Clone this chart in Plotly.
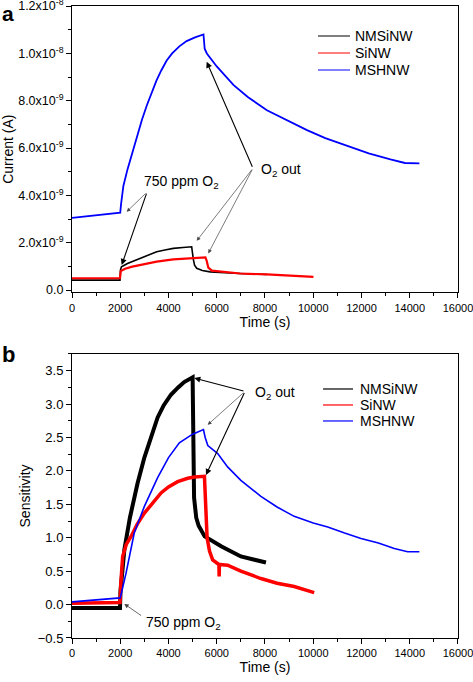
import plotly.graph_objects as go

# ---------------- panel a : current (A) vs time (s) ----------------
time_a_nmsinw = [0, 1000, 1990, 2010, 2050, 2300, 2600, 2820, 3200, 3510, 3900, 4200, 4600, 4960, 5030, 5080, 5170, 5400, 5725, 6300, 6960, 7500, 8080]
current_a_nmsinw = [0.42e-9, 0.42e-9, 0.42e-9, 0.85e-9, 0.98e-9, 1.12e-9, 1.25e-9, 1.34e-9, 1.5e-9, 1.62e-9, 1.7e-9, 1.76e-9, 1.8e-9, 1.83e-9, 1.3e-9, 1.05e-9, 0.92e-9, 0.83e-9, 0.77e-9, 0.73e-9, 0.7e-9, 0.68e-9, 0.66e-9]

time_a_sinw = [0, 1000, 1990, 2020, 2200, 2500, 2820, 3200, 3510, 4200, 4890, 5530, 5580, 5650, 5800, 6300, 6970, 8080, 9000, 10010]
current_a_sinw = [0.5e-9, 0.5e-9, 0.5e-9, 0.8e-9, 0.9e-9, 0.99e-9, 1.06e-9, 1.14e-9, 1.2e-9, 1.3e-9, 1.34e-9, 1.38e-9, 1.25e-9, 0.95e-9, 0.82e-9, 0.76e-9, 0.7e-9, 0.66e-9, 0.61e-9, 0.56e-9]

time_a_mshnw = [0, 500, 1000, 1500, 2000, 2030, 2130, 2300, 2450, 2700, 2900, 3100, 3300, 3500, 3700, 3925, 4150, 4450, 4750, 5100, 5450, 5500, 5590, 6000, 6700, 7300, 8080, 9000, 9740, 10500, 11530, 12300, 13200, 13800, 14400]
current_a_mshnw = [3.05e-9, 3.1e-9, 3.15e-9, 3.2e-9, 3.27e-9, 3.6e-9, 4.4e-9, 5.1e-9, 5.65e-9, 6.5e-9, 7.2e-9, 7.8e-9, 8.35e-9, 8.85e-9, 9.28e-9, 9.7e-9, 10.0e-9, 10.3e-9, 10.52e-9, 10.68e-9, 10.8e-9, 10.2e-9, 10.0e-9, 9.45e-9, 8.66e-9, 8.15e-9, 7.6e-9, 7.12e-9, 6.76e-9, 6.42e-9, 6.05e-9, 5.78e-9, 5.52e-9, 5.37e-9, 5.35e-9]

# ---------------- panel b : sensitivity vs time (s) ----------------
time_b_nmsinw = [0, 1000, 1990, 2010, 2170, 2400, 2720, 3000, 3300, 3550, 3800, 4100, 4400, 4650, 5000, 5020, 5060, 5150, 5250, 5500, 6200, 7000, 8040]
sens_b_nmsinw = [-0.05, -0.05, -0.05, 0.2, 0.82, 1.3, 1.82, 2.2, 2.55, 2.8, 2.98, 3.14, 3.25, 3.33, 3.4, 2.3, 1.6, 1.3, 1.18, 1.02, 0.87, 0.72, 0.63]

time_b_sinw = [0, 1000, 1990, 2020, 2100, 2250, 2450, 2700, 3000, 3300, 3690, 4000, 4380, 4800, 5070, 5490, 5540, 5600, 5700, 5830, 6090, 6100, 6110, 6450, 7000, 7830, 8500, 9210, 10040]
sens_b_sinw = [0.02, 0.02, 0.03, 0.3, 0.72, 0.9, 1.02, 1.2, 1.37, 1.5, 1.67, 1.76, 1.84, 1.89, 1.91, 1.92, 1.6, 1.0, 0.8, 0.67, 0.6, 0.42, 0.6, 0.59, 0.5, 0.39, 0.32, 0.27, 0.18]

time_b_mshnw = [0, 1000, 2000, 2240, 2580, 3000, 3550, 4000, 4450, 5000, 5450, 5520, 5630, 6040, 6450, 7000, 7830, 8500, 9210, 10000, 10600, 11300, 11980, 12700, 13360, 13910, 14400]
sens_b_mshnw = [0.04, 0.07, 0.1, 0.47, 1.07, 1.47, 1.9, 2.2, 2.42, 2.55, 2.62, 2.5, 2.38, 2.26, 2.06, 1.86, 1.62, 1.46, 1.32, 1.22, 1.16, 1.07, 0.99, 0.92, 0.84, 0.79, 0.79]

series_names = ["NMSiNW", "SiNW", "MSHNW"]
series_colors = ["#000000", "#ff0000", "#0000ff"]

current_tickvals = [0, 2e-9, 4e-9, 6e-9, 8e-9, 1.0e-8, 1.2e-8]
current_ticktext = ["0.0", "2.0x10<sup>-9</sup>", "4.0x10<sup>-9</sup>", "6.0x10<sup>-9</sup>",
                    "8.0x10<sup>-9</sup>", "1.0x10<sup>-8</sup>", "1.2x10<sup>-8</sup>"]

FONT = "Liberation Sans, Arial, sans-serif"

fig = go.Figure()

a_times = [time_a_nmsinw, time_a_sinw, time_a_mshnw]
a_vals = [current_a_nmsinw, current_a_sinw, current_a_mshnw]
a_widths = [1.6, 2.2, 1.8]
for name, col, t, v, w in zip(series_names, series_colors, a_times, a_vals, a_widths):
    fig.add_trace(go.Scatter(x=t, y=v, mode="lines", name=name, showlegend=False,
                             line=dict(color=col, width=w), xaxis="x", yaxis="y"))

b_times = [time_b_nmsinw, time_b_sinw, time_b_mshnw]
b_vals = [sens_b_nmsinw, sens_b_sinw, sens_b_mshnw]
b_widths = [4, 3.5, 1.6]
for name, col, t, v, w in zip(series_names, series_colors, b_times, b_vals, b_widths):
    fig.add_trace(go.Scatter(x=t, y=v, mode="lines", name=name, showlegend=False,
                             line=dict(color=col, width=w), xaxis="x2", yaxis="y2"))

axis_common = dict(showline=True, linecolor="black", linewidth=1, mirror=True,
                   ticks="outside", ticklen=5, tickwidth=1, tickcolor="black",
                   showgrid=False, zeroline=False, ticklabeloverflow="allow",
                   automargin=False)

xaxis_common = dict(axis_common, range=[0, 16000.5], tick0=0, dtick=2000, tickformat="d",
                    tickfont=dict(family=FONT, size=11, color="black"),
                    minor=dict(ticks="outside", ticklen=3, tickcolor="black", dtick=1000, tick0=0))

fig.update_layout(
    width=473, height=682,
    margin=dict(l=72, r=15, t=6, b=44, autoexpand=False),
    paper_bgcolor="white", plot_bgcolor="white",
    font=dict(family=FONT, size=13, color="black"),
    showlegend=False,
    xaxis=dict(xaxis_common, domain=[0, 1], anchor="y",
               title=dict(text="Time (s)", font=dict(family=FONT, size=14, color="black"), standoff=0)),
    yaxis=dict(axis_common, domain=[0.5468, 1], anchor="x", range=[-0.1e-9, 1.2005e-8],
               tickmode="array", tickvals=current_tickvals, ticktext=current_ticktext,
               tickfont=dict(family=FONT, size=12.5, color="black"),
               minor=dict(ticks="outside", ticklen=3, tickcolor="black", dtick=1e-9, tick0=0),
               title=dict(text="Current (A)", font=dict(family=FONT, size=14, color="black"), standoff=2)),
    xaxis2=dict(xaxis_common, domain=[0, 1], anchor="y2",
                title=dict(text="Time (s)", font=dict(family=FONT, size=14, color="black"), standoff=2)),
    yaxis2=dict(axis_common, domain=[0, 0.4494], anchor="x2", range=[-0.5, 3.75],
                tick0=-0.5, dtick=0.5, tickformat=".1f",
                tickfont=dict(family=FONT, size=13, color="black"),
                minor=dict(ticks="outside", ticklen=3, tickcolor="black", dtick=0.25, tick0=-0.5),
                title=dict(text="Sensitivity", font=dict(family=FONT, size=14, color="black"), standoff=3)),
)

ann = []
shapes = []

def arrow(xref, yref, tip, tail, color, width):
    ann.append(dict(xref=xref, yref=yref, axref=xref, ayref=yref,
                    x=tip[0], y=tip[1], ax=tail[0], ay=tail[1], text="",
                    showarrow=True, arrowhead=2, arrowsize=1.1, arrowwidth=width,
                    arrowcolor=color, standoff=0, startstandoff=0))

def label(xref, yref, pos, text, size=14, xanchor="center"):
    ann.append(dict(xref=xref, yref=yref, x=pos[0], y=pos[1], text=text, showarrow=False,
                    font=dict(family=FONT, size=size, color="black"),
                    xanchor=xanchor, yanchor="middle"))

GREY = "#444444"
# panel a
arrow("x", "y", (2267, 3.31e-9), (3109, 4.14e-9), GREY, 0.7)
arrow("x", "y", (2060, 1.06e-9), (3109, 4.14e-9), "black", 1.1)
label("x", "y", (4539, 4.58e-9), "750 ppm O<sub>2</sub>")
arrow("x", "y", (5583, 9.65e-9), (7502, 5.15e-9), "black", 1.1)
arrow("x", "y", (5169, 2.08e-9), (7502, 5.15e-9), GREY, 0.7)
arrow("x", "y", (5650, 1.55e-9), (7502, 5.15e-9), GREY, 0.7)
label("x", "y", (8684, 5.07e-9), "O<sub>2</sub> out")
# panel b
arrow("x2", "y2", (5069, 3.39), (7171, 3.19), "black", 1.1)
arrow("x2", "y2", (5625, 2.69), (7171, 3.19), GREY, 0.7)
arrow("x2", "y2", (5554, 1.94), (7171, 3.19), "black", 1.1)
label("x2", "y2", (8414, 3.17), "O<sub>2</sub> out")
arrow("x2", "y2", (2168, 0.01), (2930, -0.18), GREY, 0.8)
label("x2", "y2", (4642, -0.28), "750 ppm O<sub>2</sub>")

# legends (drawn as line samples + labels, one per panel)
legend_a = dict(x0=0.6373, x1=0.7202, xt=0.728, ys=[0.9525, 0.9256, 0.8987])
legend_b = dict(x0=0.6503, x1=0.7280, xt=0.741, ys=[0.394, 0.3687, 0.3434])
for lg in (legend_a, legend_b):
    for name, col, yy in zip(series_names, series_colors, lg["ys"]):
        shapes.append(dict(type="line", xref="paper", yref="paper", x0=lg["x0"], x1=lg["x1"],
                           y0=yy, y1=yy, line=dict(color=col, width=1.2)))
        label("paper", "paper", (lg["xt"], yy), name, xanchor="left")

# panel letters
ann.append(dict(xref="paper", yref="paper", x=-0.1865, y=1.0095, text="<b>a</b>", showarrow=False,
                xanchor="left", yanchor="top", font=dict(family=FONT, size=21, color="black")))
ann.append(dict(xref="paper", yref="paper", x=-0.1865, y=0.4723, text="<b>b</b>", showarrow=False,
                xanchor="left", yanchor="top", font=dict(family=FONT, size=22, color="black")))

fig.update_layout(annotations=ann, shapes=shapes)

fig.write_html("out.html", config={"displayModeBar": False},
               post_script="document.body.style.margin='0px';")
